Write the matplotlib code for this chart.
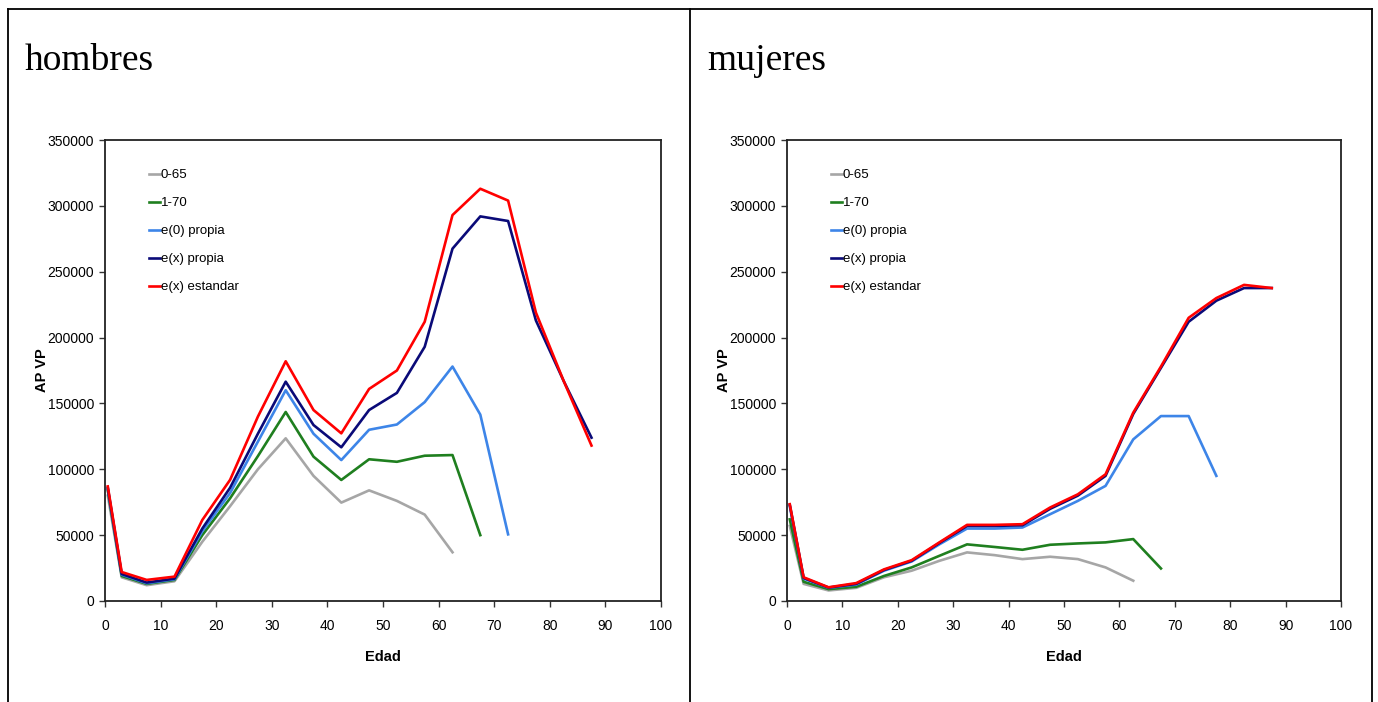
import matplotlib
matplotlib.use('Agg')
import matplotlib.pyplot as plt
from matplotlib import font_manager
from matplotlib.lines import Line2D

# age group midpoints
ages = [0.5, 3, 7.5, 12.5, 17.5, 22.5, 27.5, 32.5, 37.5, 42.5,
        47.5, 52.5, 57.5, 62.5, 67.5, 72.5, 77.5, 82.5, 87.5]

labels = ['0-65', '1-70', 'e(0) propia', 'e(x) propia', 'e(x) estandar']
colors = ['#a6a6a6', '#1f7f1f', '#3d85e8', '#0a0a78', '#ff0000']

# hombres
h_065 = [80000, 18000, 12000, 15000, 45000, 72000, 100000, 123500, 95000, 74700,
         84000, 76000, 65600, 37000]
h_170 = [84000, 19000, 13000, 16000, 50000, 78000, 110000, 143500, 109600, 91900,
         107600, 105700, 110300, 110800, 50000]
h_e0 = [85000, 20000, 13500, 16500, 53000, 82000, 121000, 160000, 127000, 107000,
        130000, 134000, 151000, 178000, 141500, 50600]
h_ex = [86000, 20500, 14000, 17000, 55000, 86000, 127000, 166500, 133600, 116700,
        145000, 158000, 193000, 267500, 292000, 288500, 213000, 167000, 124000]
h_std = [87000, 22000, 16000, 18500, 61500, 92000, 140000, 182000, 145000, 127300,
         161000, 175000, 212000, 293000, 313000, 304000, 219000, 167000, 118000]

# mujeres
m_065 = [57000, 13000, 8000, 10000, 18000, 23000, 30500, 36900, 34800, 31800,
         33600, 31800, 25500, 15400]
m_170 = [62000, 14600, 9000, 10800, 19000, 25500, 34300, 43000, 41000, 38900,
         42700, 43700, 44500, 47000, 24700]
m_e0 = [72000, 17000, 10000, 12500, 23000, 30000, 43000, 55000, 55000, 55800,
        65900, 76000, 87400, 122700, 140400, 140400, 95000]
m_ex = [73000, 17500, 10200, 13000, 23500, 30500, 44000, 57000, 57000, 57500,
        70000, 80000, 95000, 142000, 177000, 212000, 228000, 237600, 237600]
m_std = [73500, 18000, 10400, 13600, 24000, 31000, 44500, 57800, 57800, 58300,
         71000, 81000, 96200, 143000, 178000, 215000, 230000, 240000, 237600]

panels = [('hombres', [h_065, h_170, h_e0, h_ex, h_std]),
          ('mujeres', [m_065, m_170, m_e0, m_ex, m_std])]

yticks = [0, 50000, 100000, 150000, 200000, 250000, 300000, 350000]
xticks = [0, 10, 20, 30, 40, 50, 60, 70, 80, 90, 100]


def pick_font(names):
    for n in names:
        try:
            font_manager.findfont(n, fallback_to_default=False)
            return n
        except Exception:
            pass
    return 'DejaVu Sans'


tick_font = pick_font(['Liberation Sans Narrow', 'Liberation Sans', 'Arial'])
title_font = pick_font(['Liberation Serif', 'DejaVu Serif'])

W, H = 1378, 702
fig = plt.figure(figsize=(W / 100, H / 100), dpi=100)

# panel frames
frame_kw = dict(color='black', lw=1.3, transform=fig.transFigure)
fig.add_artist(Line2D([8 / W, 1372 / W], [1 - 9 / H, 1 - 9 / H], **frame_kw))
for px in (8, 690, 1372):
    fig.add_artist(Line2D([px / W, px / W], [1 - 9 / H, 0], **frame_kw))

ax_left = [105, 787]
ax_right = [661, 1341]
ax_top, ax_bot = 140, 601

for i, (name, series) in enumerate(panels):
    l, r = ax_left[i], ax_right[i]
    ax = fig.add_axes([l / W, (H - ax_bot) / H, (r - l) / W, (ax_bot - ax_top) / H])
    for s, lab, c in zip(series, labels, colors):
        ax.plot(ages[:len(s)], s, color=c, lw=1.9, label=lab)
    ax.set_xlim(0, 100)
    ax.set_ylim(0, 350000)
    ax.set_xticks(xticks)
    ax.set_yticks(yticks)
    ax.set_xticklabels([str(t) for t in xticks], fontfamily=tick_font, fontsize=10)
    ax.set_yticklabels([str(t) for t in yticks], fontfamily=tick_font, fontsize=10)
    ax.tick_params(direction='out', length=4, width=1, color='#333333')
    ax.tick_params(axis='x', pad=9)
    ax.tick_params(axis='y', pad=4)
    for sp in ax.spines.values():
        sp.set_linewidth(1.3)
        sp.set_color('#222222')
    ax.set_xlabel('Edad', fontfamily=tick_font, fontweight='bold', fontsize=10.5, labelpad=12)
    ax.set_ylabel('AP VP', fontfamily=tick_font, fontweight='bold', fontsize=10.5, labelpad=-1)
    ax.legend(loc='upper left', bbox_to_anchor=(0.058, 0.963), frameon=False,
              handlelength=0.8, handletextpad=0.1, labelspacing=1.2,
              prop={'family': tick_font, 'size': 9.5})
    fig.text((25 + 682 * i) / W, 1 - 61 / H, name, fontfamily=title_font,
             fontsize=27, va='center', ha='left')

fig.savefig('out.png', dpi=100)
